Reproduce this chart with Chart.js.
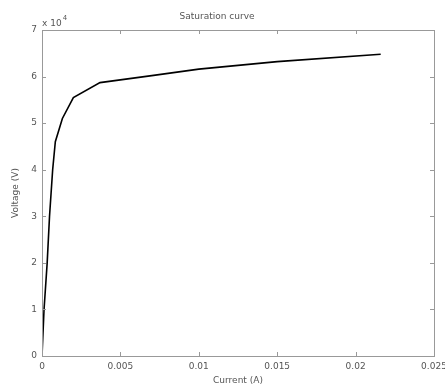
<!DOCTYPE html>
<html>
<head>
<meta charset="utf-8">
<script src="https://cdn.jsdelivr.net/npm/chart.js@4/dist/chart.umd.min.js"></script>
<style>
  html, body { margin: 0; padding: 0; background: #fff; }
  #wrap { width: 445px; height: 389px; }
</style>
</head>
<body>
<div id="wrap"><canvas id="myChart" width="445" height="389"></canvas></div>
<script>
// Datos
const current = [0, 0.00013, 0.00033, 0.00048, 0.00068, 0.00085, 0.0013, 0.002, 0.0037, 0.007, 0.01, 0.015, 0.0216];
const voltage = [0, 10000, 20000, 30000, 40000, 46000, 51000, 55500, 58700, 60200, 61600, 63200, 64800];
const xTicks = [0, 0.005, 0.01, 0.015, 0.02, 0.025];
const yTicks = [0, 1, 2, 3, 4, 5, 6, 7];

const textColor = '#555';
const axisColor = '#999';
const fontFamily = 'DejaVu Sans, sans-serif';
const font = { family: fontFamily, size: 9, weight: 'normal' };

// Caja y marcas interiores estilo Matlab
const boxPlugin = {
    id: 'boxPlugin',
    afterDraw(chart) {
        const { ctx, chartArea: a, scales: { x, y } } = chart;
        const len = 4;
        ctx.save();
        ctx.strokeStyle = axisColor;
        ctx.lineWidth = 1;
        ctx.strokeRect(Math.round(a.left) + 0.5, Math.round(a.top) + 0.5, Math.round(a.right - a.left), Math.round(a.bottom - a.top));
        ctx.beginPath();
        xTicks.forEach(v => {
            const px = Math.round(x.getPixelForValue(v)) + 0.5;
            ctx.moveTo(px, a.bottom); ctx.lineTo(px, a.bottom - len);
            ctx.moveTo(px, a.top); ctx.lineTo(px, a.top + len);
        });
        yTicks.forEach(v => {
            const py = Math.round(y.getPixelForValue(v * 10000)) + 0.5;
            ctx.moveTo(a.left, py); ctx.lineTo(a.left + len, py);
            ctx.moveTo(a.right, py); ctx.lineTo(a.right - len, py);
        });
        ctx.stroke();
        // Exponente del eje y
        ctx.fillStyle = textColor;
        ctx.font = '9px ' + fontFamily;
        ctx.textBaseline = 'alphabetic';
        const base = 'x 10';
        ctx.fillText(base, a.left, a.top - 4);
        const w = ctx.measureText(base).width;
        ctx.font = '7px ' + fontFamily;
        ctx.fillText('4', a.left + w + 1, a.top - 10);
        ctx.restore();
    }
};

const ctx = document.getElementById('myChart').getContext('2d');
const chart = new Chart(ctx, {
    type: 'scatter',
    data: {
        datasets: [{
            data: current.map((c, i) => ({ x: c, y: voltage[i] })),
            showLine: true,
            borderColor: '#000',
            borderWidth: 1.6,
            pointRadius: 0,
            tension: 0
        }]
    },
    options: {
        responsive: false,
        animation: false,
        layout: { padding: { left: 0, right: 11, top: 0, bottom: 0 } },
        plugins: {
            legend: { display: false },
            tooltip: { enabled: false },
            title: {
                display: true,
                text: 'Saturation curve',
                color: textColor,
                font: font,
                padding: { top: 11, bottom: 8.2 }
            }
        },
        scales: {
            x: {
                type: 'linear',
                min: 0,
                max: 0.025,
                afterBuildTicks: s => { s.ticks = xTicks.map(v => ({ value: v })); },
                afterFit: s => { s.height = 33; s.paddingLeft = 0; s.paddingRight = 0; },
                grid: { display: false, drawTicks: false },
                border: { display: false },
                ticks: {
                    color: textColor,
                    font: font,
                    padding: 5,
                    maxRotation: 0,
                    autoSkip: false,
                    callback: v => String(+v.toFixed(4))
                },
                title: {
                    display: true,
                    text: 'Current (A)',
                    color: textColor,
                    font: font,
                    padding: { top: 0, bottom: 2.6 }
                }
            },
            y: {
                type: 'linear',
                min: 0,
                max: 70000,
                afterBuildTicks: s => { s.ticks = yTicks.map(v => ({ value: v * 10000 })); },
                afterFit: s => { s.width = 42; s.paddingTop = 0; s.paddingBottom = 0; },
                grid: { display: false, drawTicks: false },
                border: { display: false },
                ticks: {
                    color: textColor,
                    font: font,
                    padding: 5,
                    autoSkip: false,
                    callback: v => String(v / 10000)
                },
                title: {
                    display: true,
                    text: 'Voltage (V)',
                    color: textColor,
                    font: font,
                    padding: { top: 10.6, bottom: 0 }
                }
            }
        }
    },
    plugins: [boxPlugin]
});
</script>
</body>
</html>
